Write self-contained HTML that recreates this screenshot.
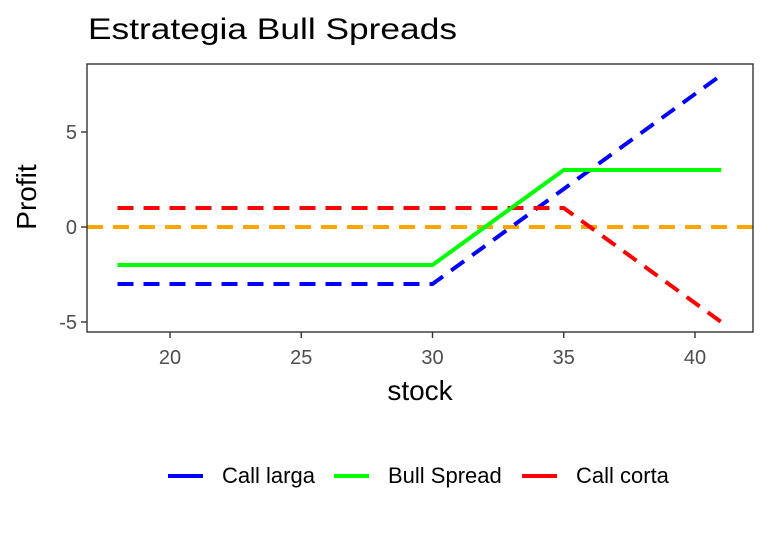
<!DOCTYPE html>
<html><head><meta charset="utf-8"><style>
body{margin:0;background:#fff;font-family:"Liberation Sans",sans-serif}
</style></head><body>
<svg width="768" height="528" xmlns="http://www.w3.org/2000/svg" font-family="Liberation Sans, sans-serif">
<text x="88" y="39" font-size="30" textLength="369" lengthAdjust="spacingAndGlyphs" fill="#000">Estrategia Bull Spreads</text>
<g id="plot"></g>
<rect x="87" y="64" width="666" height="268" fill="none" stroke="#333" stroke-width="1.4"/>
<text x="420" y="400" font-size="28" text-anchor="middle">stock</text>
<text x="36" y="197" font-size="28" text-anchor="middle" transform="rotate(-90 36 197)">Profit</text>
<g>
<line x1="168" y1="476" x2="203" y2="476" stroke="#0000ff" stroke-width="4"/>
<text x="222" y="483" font-size="22">Call larga</text>
<line x1="334" y1="476" x2="369" y2="476" stroke="#00ff00" stroke-width="4"/>
<text x="388" y="483" font-size="22">Bull Spread</text>
<line x1="522" y1="476" x2="557" y2="476" stroke="#ff0000" stroke-width="4"/>
<text x="576" y="483" font-size="22">Call corta</text>
</g>
</svg>
<script>
const stock = [18, 30, 35, 41];
const callLarga = [-3, -3, 2, 8];
const bullSpread = [-2, -2, 3, 3];
const callCorta = [1, 1, 1, -5];
const xTicks = [20, 25, 30, 35, 40];
const yTicks = [-5, 0, 5];
const zeroLine = 0;

const NS = "http://www.w3.org/2000/svg";
const svg = document.querySelector("svg");
const g = document.getElementById("plot");
const X0 = 87, X1 = 753, Y0 = 64, Y1 = 332;
const xs = v => 170 + (v - 20) * 26.25;
const ys = v => 227 - v * 19;
function mk(tag, attrs, parent) {
  const e = document.createElementNS(NS, tag);
  for (const k in attrs) e.setAttribute(k, attrs[k]);
  (parent || g).appendChild(e);
  return e;
}
let zl = mk("line", {x1: X0, x2: X1, y1: ys(zeroLine), y2: ys(zeroLine), stroke: "#ffa500", "stroke-width": 4, "stroke-dasharray": "16 10"});


function series(vals, color, dash, name) {
  const pts = stock.map((s, i) => xs(s) + "," + ys(vals[i])).join(" ");
  const a = {points: pts, fill: "none", stroke: color, "stroke-width": 4};
  if (dash) a["stroke-dasharray"] = "16 10";
  const p = mk("polyline", a);
  
  
}
series(callLarga, "#0000ff", true, "line-call-larga");
series(callCorta, "#ff0000", true, "line-call-corta");
series(bullSpread, "#00ff00", false, "line-bull-spread");
xTicks.forEach(t => {
  const l = mk("line", {x1: xs(t), x2: xs(t), y1: Y1, y2: Y1 + 6, stroke: "#333", "stroke-width": 1.4}, svg);
  
  
  const tx = mk("text", {x: xs(t), y: 364, "font-size": 20, fill: "#4d4d4d", "text-anchor": "middle"}, svg);
  tx.textContent = t;
  
  
});
yTicks.forEach(t => {
  const l = mk("line", {x1: X0 - 6, x2: X0, y1: ys(t), y2: ys(t), stroke: "#333", "stroke-width": 1.4}, svg);
  
  
  const tx = mk("text", {x: X0 - 10, y: ys(t) + 7, "font-size": 20, fill: "#4d4d4d", "text-anchor": "end"}, svg);
  tx.textContent = t;
  
  
});
</script>
</body></html>
